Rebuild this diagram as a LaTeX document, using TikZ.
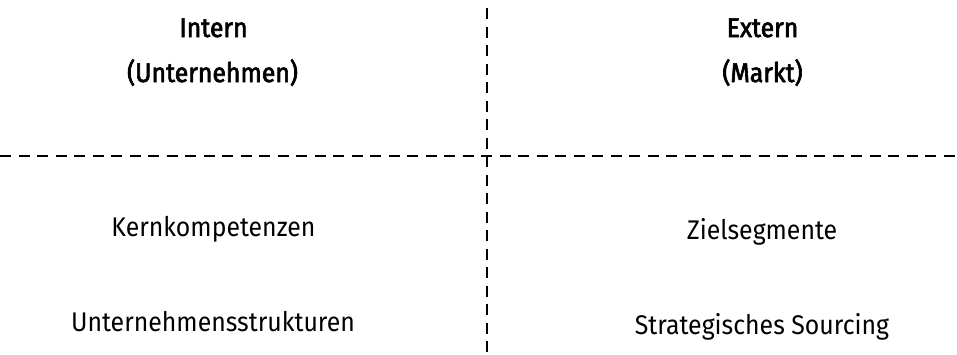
\documentclass[tikz,border=0pt]{standalone}
\usepackage{fontspec}
\setmainfont{Fira Sans}[FakeStretch=0.92]
\newfontfamily\headfont{Fira Sans}[FakeStretch=0.92,FakeBold=2.4]
\begin{document}
\begin{tikzpicture}[x=1pt,y=-1pt,
  divider/.style={line width=2.4pt,dash pattern=on 11pt off 7.5pt},
  lbl/.style={inner sep=0pt,anchor=base,font=\fontsize{27}{30}\selectfont},
  head/.style={lbl,font=\fontsize{27}{30}\selectfont\headfont}]
\useasboundingbox (0,0) rectangle (957,354);
\coordinate (vtop) at (487,8);
\coordinate (vbot) at (487,354);
\coordinate (hl) at (0,156);
\coordinate (hr) at (957,156);
\draw[divider] (vtop) -- (vbot);
\draw[divider] (hl) -- (hr);
\node[head] (intern) at (213.5,37) {Intern};
\node[head] (unt) at (212.5,82) {(Unternehmen)};
\node[head] (extern) at (762.5,37) {Extern};
\node[head] (markt) at (762.5,82) {(Markt)};
\node[lbl] (kern) at (213.5,236) {Kernkompetenzen};
\node[lbl] (ziel) at (762,239) {Zielsegmente};
\node[lbl] (struk) at (213,331) {Unternehmensstrukturen};
\node[lbl] (sourc) at (762,334) {Strategisches Sourcing};
\end{tikzpicture}
\end{document}
